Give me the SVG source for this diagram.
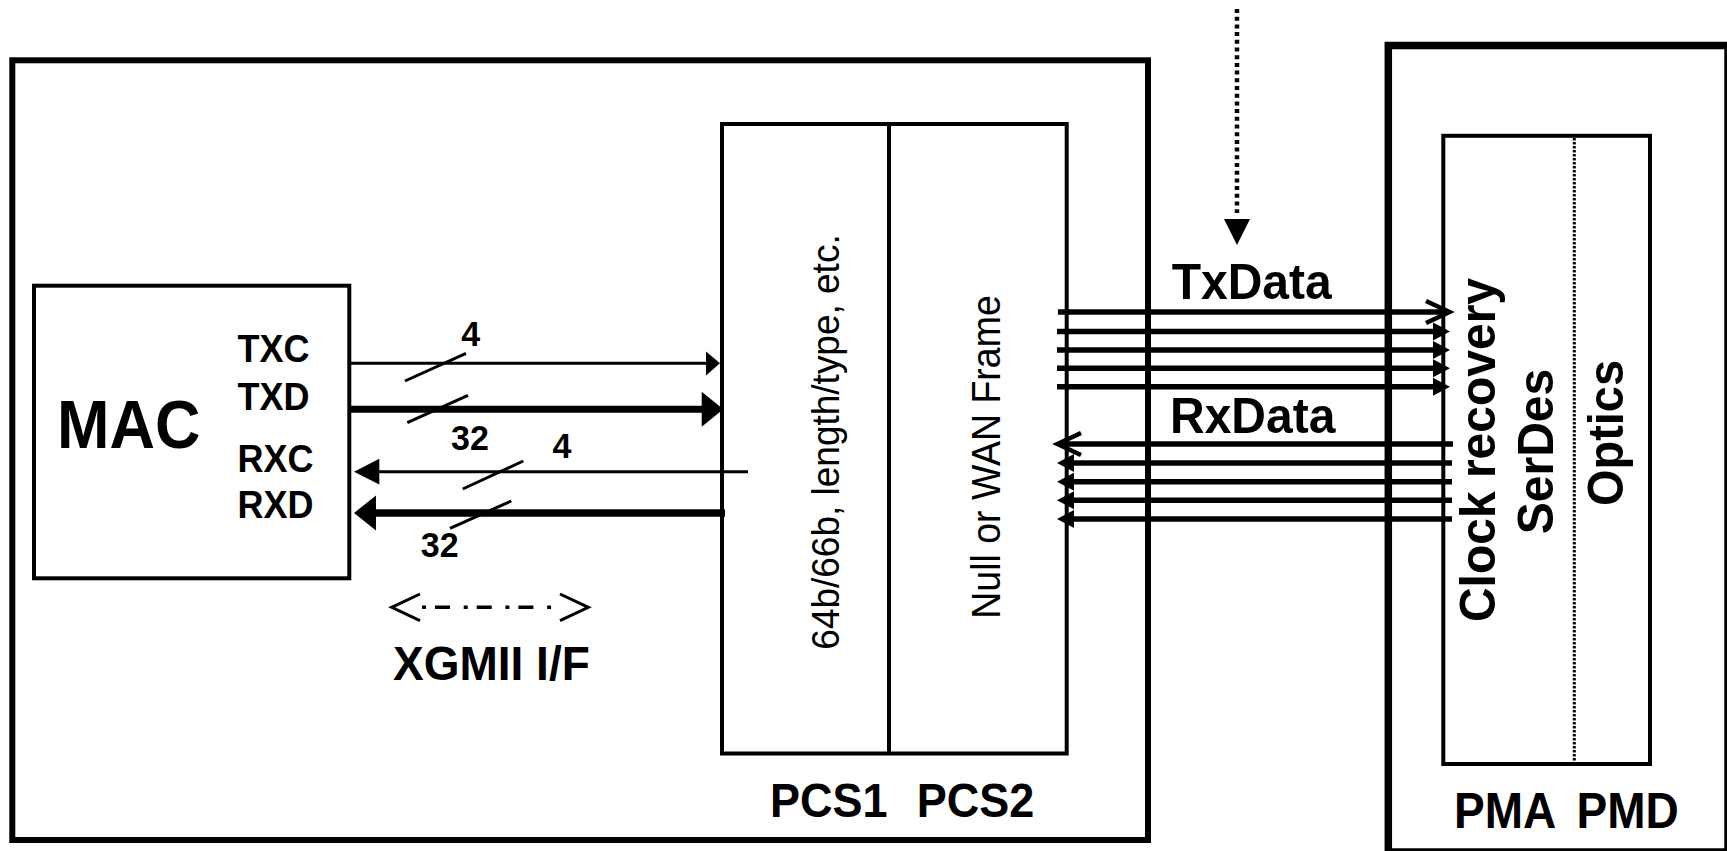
<svg xmlns="http://www.w3.org/2000/svg" width="1727" height="851" viewBox="0 0 1727 851">
<style>
.box{fill:none;stroke:#000}
.b{font-family:"Liberation Sans",Arial,sans-serif;font-weight:bold;fill:#000}
.r{font-family:"Liberation Sans",Arial,sans-serif;font-weight:normal;fill:#000}
.ln{stroke:#000;fill:none}
.bus{stroke:#000;stroke-width:5.5;fill:none}
.tri{marker-end:url(#tri)}
.chev{marker-end:url(#chev)}
</style>
<defs>
<marker id="tri" markerUnits="userSpaceOnUse" markerWidth="17" markerHeight="18" refX="7" refY="9" orient="auto" overflow="visible">
<path d="M0,0 L17,9 L0,18 Z" fill="#000"/>
</marker>
<marker id="chev" markerUnits="userSpaceOnUse" markerWidth="24" markerHeight="22" refX="21" refY="11" orient="auto" overflow="visible">
<path d="M0,0 L23.5,11 L0,22" fill="none" stroke="#000" stroke-width="4.5"/>
</marker>
</defs>
<rect x="0" y="0" width="1727" height="851" fill="#fff"/>

<g id="host">
<rect class="box" x="12.3" y="60.3" width="1135.7" height="779.7" stroke-width="6"/>
</g>
<g id="phy">
<rect class="box" x="1388.3" y="45.5" width="339.7" height="806.5" stroke-width="7.5"/>
<text class="b" font-size="46" transform="translate(1454,828) scale(1,1.07)">PMA</text>
<text class="b" font-size="46" transform="translate(1576.5,828) scale(1,1.07)">PMD</text>
</g>
<g id="mac">
<rect class="box" x="34" y="285.7" width="315.3" height="292.6" stroke-width="4"/>
<text class="b" font-size="63" transform="translate(57,448) scale(1,1.1)">MAC</text>
<text class="b" font-size="36" transform="translate(237.5,361.7) scale(1,1.07)">TXC</text>
<text class="b" font-size="36" transform="translate(237.5,410) scale(1,1.07)">TXD</text>
<text class="b" font-size="36" transform="translate(237.5,471.7) scale(1,1.07)">RXC</text>
<text class="b" font-size="36" transform="translate(237.5,518) scale(1,1.07)">RXD</text>
</g>
<g id="pcs">
<rect class="box" x="722" y="124" width="344.7" height="629.5" stroke-width="4"/>
<line class="ln" x1="889" y1="124" x2="889" y2="753.5" stroke-width="4"/>
<text class="r" font-size="37" text-anchor="middle" transform="translate(839,442) rotate(-90) scale(1,1.06)">64b/66b, length/type, etc.</text>
<text class="r" font-size="37.5" text-anchor="middle" transform="translate(1000,457) rotate(-90) scale(1,1.08)">Null or WAN Frame</text>
<text class="b" font-size="45" transform="translate(770,817) scale(1,1.08)">PCS1</text>
<text class="b" font-size="45" transform="translate(916.7,817) scale(1,1.08)">PCS2</text>
</g>
<g id="pma">
<rect class="box" x="1443.3" y="135.8" width="206.7" height="628.2" stroke-width="4"/>
<line class="ln" x1="1574.3" y1="138" x2="1574.3" y2="762" stroke-width="3" stroke-dasharray="2.5 1.5"/>
<text class="b" font-size="48" text-anchor="middle" transform="translate(1495,450) rotate(-90) scale(1,1.05)">Clock recovery</text>
<text class="b" font-size="48" text-anchor="middle" transform="translate(1553,451.5) rotate(-90) scale(1,1.05)">SerDes</text>
<text class="b" font-size="47" text-anchor="middle" transform="translate(1623,433) rotate(-90) scale(1,1.05)">Optics</text>
</g>

<g id="connectors">
<line class="ln" x1="350" y1="363.3" x2="708" y2="363.3" stroke-width="3"/>
<polygon points="706,351.5 720,363.3 706,375.5" fill="#000"/>
<line class="ln" x1="350" y1="409.3" x2="703" y2="409.3" stroke-width="7"/>
<polygon points="701.7,391.7 723.3,409.3 701.7,426.7" fill="#000"/>
<line class="ln" x1="748" y1="471.7" x2="377" y2="471.7" stroke-width="3"/>
<polygon points="379.3,458.8 354,471.7 379.3,484.5" fill="#000"/>
<line class="ln" x1="725" y1="513" x2="374" y2="513" stroke-width="7.3"/>
<polygon points="376,495.5 354,513 376,530.5" fill="#000"/>
<line class="ln" x1="405" y1="381" x2="466" y2="353.3" stroke-width="3"/>
<line class="ln" x1="407.3" y1="422.7" x2="468" y2="395.3" stroke-width="3"/>
<line class="ln" x1="462.7" y1="489" x2="523.3" y2="461" stroke-width="3"/>
<line class="ln" x1="450" y1="528.3" x2="511.3" y2="501" stroke-width="3"/>
<polyline class="ln" points="420,594 391.7,607.3 420,620.7" stroke-width="3"/>
<polyline class="ln" points="560,594 588.3,607.3 560,620.7" stroke-width="3"/>
<line class="ln" x1="422" y1="607.3" x2="552" y2="607.3" stroke-width="3.5" stroke-dasharray="4 9 15 13.7"/>
<line class="bus chev" x1="1058" y1="312" x2="1447" y2="312"/>
<line class="bus tri" x1="1057" y1="331.5" x2="1440" y2="331.5"/>
<line class="bus tri" x1="1057" y1="350" x2="1440" y2="350"/>
<line class="bus tri" x1="1057" y1="368.3" x2="1440" y2="368.3"/>
<line class="bus tri" x1="1057" y1="386.7" x2="1440" y2="386.7"/>
<line class="bus chev" x1="1453" y1="444" x2="1060" y2="444"/>
<line class="bus tri" x1="1452" y1="463" x2="1067" y2="463"/>
<line class="bus tri" x1="1452" y1="481.7" x2="1067" y2="481.7"/>
<line class="bus tri" x1="1452" y1="500.3" x2="1067" y2="500.3"/>
<line class="bus tri" x1="1452" y1="519" x2="1067" y2="519"/>
<line class="ln" x1="1237" y1="9" x2="1237" y2="213" stroke-width="4.5" stroke-dasharray="4 3.7"/>
<polygon points="1224,219 1250,219 1237,245" fill="#000"/>
</g>

<g id="labels">
<text class="b" font-size="34" text-anchor="middle" transform="translate(470.7,346) scale(1,1.05)">4</text>
<text class="b" font-size="34" text-anchor="middle" transform="translate(470,450) scale(1,1.05)">32</text>
<text class="b" font-size="34" text-anchor="middle" transform="translate(562,458) scale(1,1.05)">4</text>
<text class="b" font-size="34" text-anchor="middle" transform="translate(439.7,557) scale(1,1.05)">32</text>
<text class="b" font-size="46" transform="translate(393,680) scale(1,1.05)">XGMII I/F</text>
<text class="b" font-size="48" transform="translate(1171.7,299) scale(1,1.05)">TxData</text>
<text class="b" font-size="48" transform="translate(1170,432.5) scale(1,1.05)">RxData</text>
</g>
</svg>
